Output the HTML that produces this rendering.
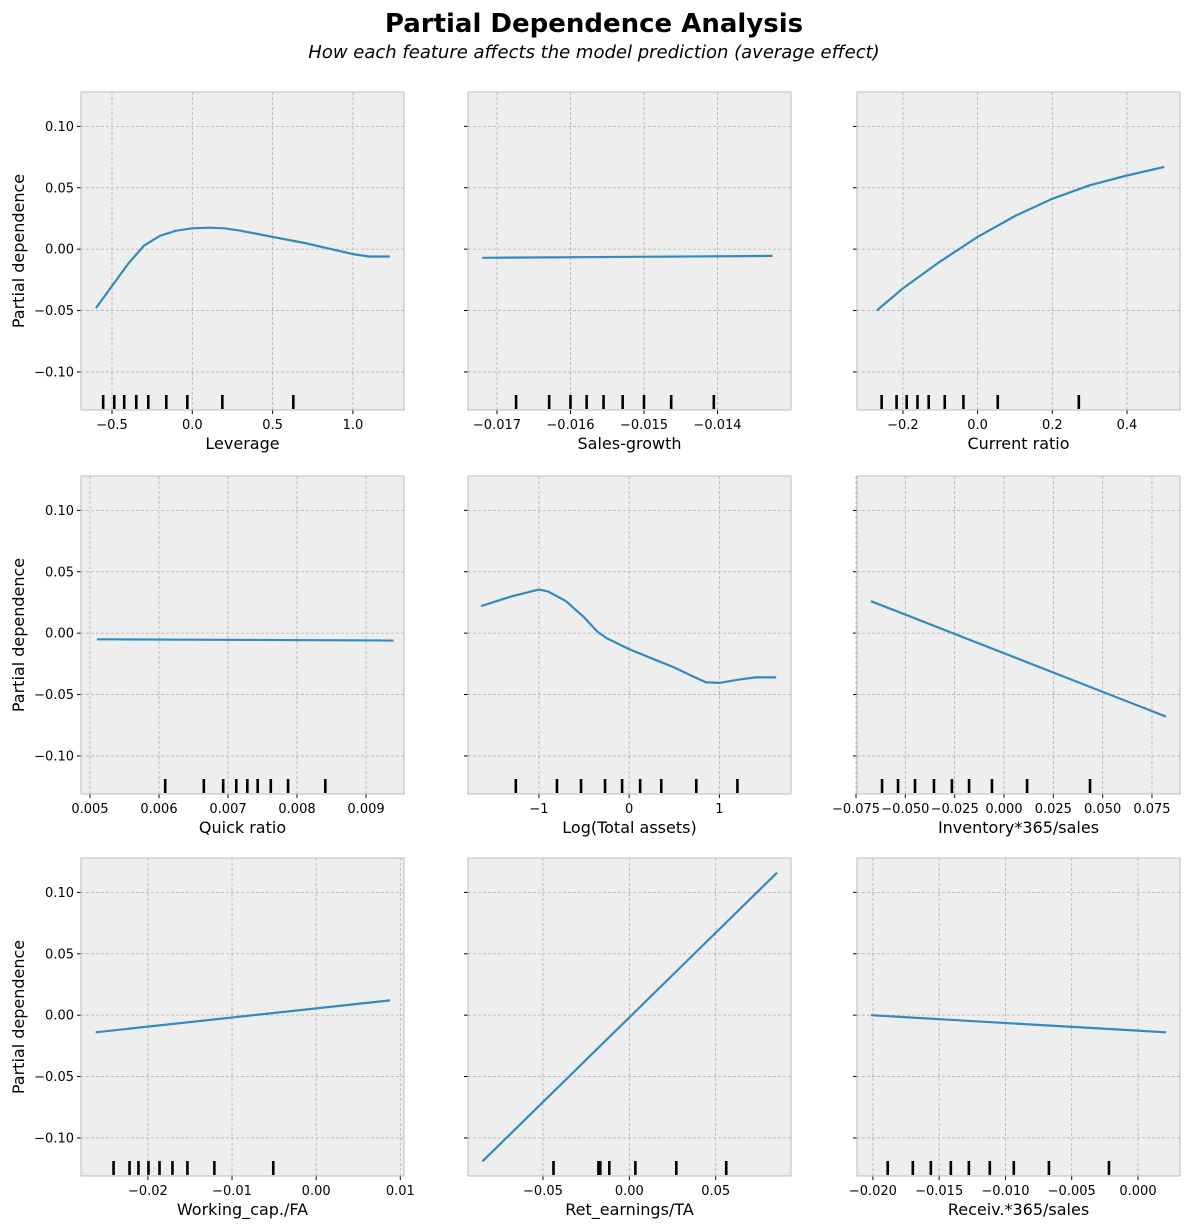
<!DOCTYPE html>
<html><head><meta charset="utf-8">
<style>
html,body{margin:0;padding:0;background:#fff;}
svg{display:block;font-family:"DejaVu Sans","Liberation Sans",sans-serif;}
</style></head>
<body>
<svg id="fig" width="1189" height="1229" viewBox="0 0 1189 1229">
<text x="594" y="32" text-anchor="middle" font-size="26" font-weight="bold">Partial Dependence Analysis</text>
<text x="594" y="58" text-anchor="middle" font-size="18" font-style="italic">How each feature affects the model prediction (average effect)</text>
</svg>
<script>
// ---- data ----
const yTicks = [-0.10, -0.05, 0.00, 0.05, 0.10];
const yTickLabels = ["\u22120.10", "\u22120.05", "0.00", "0.05", "0.10"];
const yLim = [-0.131, 0.128];

const leverageX = [-0.6,-0.5,-0.4,-0.3,-0.2,-0.1,0,0.1,0.2,0.3,0.5,0.7,0.9,1.0,1.1,1.23];
const leverageY = [-0.048,-0.03,-0.012,0.003,0.011,0.015,0.017,0.0175,0.017,0.015,0.010,0.005,-0.001,-0.004,-0.006,-0.006];
const leverageRug = [-0.555,-0.486,-0.424,-0.349,-0.274,-0.162,-0.031,0.187,0.629];
const leverageTicks = [-0.5,0,0.5,1.0];
const leverageTickLabels = ["\u22120.5","0.0","0.5","1.0"];

const salesX = [-0.0172,-0.01325];
const salesY = [-0.007,-0.0055];
const salesRug = [-0.01674,-0.01629,-0.0160,-0.01578,-0.01555,-0.01529,-0.0150,-0.01463,-0.01405];
const salesTicks = [-0.017,-0.016,-0.015,-0.014];
const salesTickLabels = ["\u22120.017","\u22120.016","\u22120.015","\u22120.014"];

const currentX = [-0.27,-0.2,-0.1,0,0.1,0.2,0.3,0.4,0.5];
const currentY = [-0.05,-0.032,-0.010,0.010,0.027,0.041,0.052,0.060,0.067];
const currentRug = [-0.257,-0.217,-0.190,-0.161,-0.131,-0.088,-0.038,0.054,0.271];
const currentTicks = [-0.2,0,0.2,0.4];
const currentTickLabels = ["\u22120.2","0.0","0.2","0.4"];

const quickX = [0.0051,0.0094];
const quickY = [-0.005,-0.006];
const quickRug = [0.00609,0.00665,0.00693,0.00712,0.00728,0.00743,0.00762,0.00787,0.00841];
const quickTicks = [0.005,0.006,0.007,0.008,0.009];
const quickTickLabels = ["0.005","0.006","0.007","0.008","0.009"];

const logtaX = [-1.64,-1.3,-1.0,-0.9,-0.7,-0.5,-0.35,-0.25,0,0.3,0.5,0.7,0.85,1.0,1.2,1.4,1.63];
const logtaY = [0.022,0.030,0.0355,0.034,0.026,0.013,0.001,-0.004,-0.013,-0.022,-0.028,-0.035,-0.040,-0.0405,-0.038,-0.036,-0.036];
const logtaRug = [-1.256,-0.8,-0.533,-0.267,-0.078,0.122,0.356,0.744,1.2];
const logtaTicks = [-1,0,1];
const logtaTickLabels = ["\u22121","0","1"];

const invX = [-0.0674,0.0821];
const invY = [0.026,-0.068];
const invRug = [-0.0618,-0.0537,-0.0451,-0.0355,-0.0264,-0.0177,-0.0061,0.0117,0.0436];
const invTicks = [-0.075,-0.05,-0.025,0,0.025,0.05,0.075];
const invTickLabels = ["\u22120.075","\u22120.050","\u22120.025","0.000","0.025","0.050","0.075"];

const wcX = [-0.0262,0.00878];
const wcY = [-0.014,0.012];
const wcRug = [-0.02408,-0.02218,-0.02112,-0.01993,-0.01862,-0.01708,-0.0153,-0.0121,-0.0051];
const wcTicks = [-0.02,-0.01,0,0.01];
const wcTickLabels = ["\u22120.02","\u22120.01","0.00","0.01"];

const reX = [-0.085,0.0855];
const reY = [-0.119,0.116];
const reRug = [-0.0439,-0.0179,-0.0168,-0.0116,0.0035,0.0272,0.0561];
const reTicks = [-0.05,0,0.05];
const reTickLabels = ["\u22120.05","0.00","0.05"];

const recX = [-0.02015,0.00211];
const recY = [0.0,-0.014];
const recRug = [-0.01888,-0.01699,-0.01563,-0.01412,-0.01276,-0.01118,-0.00937,-0.00672,-0.00219];
const recTicks = [-0.02,-0.015,-0.01,-0.005,0];
const recTickLabels = ["\u22120.020","\u22120.015","\u22120.010","\u22120.005","0.000"];

const featureNames = ["Leverage","Sales-growth","Current ratio","Quick ratio","Log(Total assets)","Inventory*365/sales","Working_cap./FA","Ret_earnings/TA","Receiv.*365/sales"];
const xLims = [[-0.693,1.318],[-0.017394,-0.013],[-0.323,0.542],[0.00487,0.00955],[-1.786,1.794],[-0.0745,0.0892],[-0.02795,0.01044],[-0.0934,0.0936],[-0.0212,0.00317]];

const panels = [
 {x:leverageX,y:leverageY,rug:leverageRug,t:leverageTicks,tl:leverageTickLabels},
 {x:salesX,y:salesY,rug:salesRug,t:salesTicks,tl:salesTickLabels},
 {x:currentX,y:currentY,rug:currentRug,t:currentTicks,tl:currentTickLabels},
 {x:quickX,y:quickY,rug:quickRug,t:quickTicks,tl:quickTickLabels},
 {x:logtaX,y:logtaY,rug:logtaRug,t:logtaTicks,tl:logtaTickLabels},
 {x:invX,y:invY,rug:invRug,t:invTicks,tl:invTickLabels},
 {x:wcX,y:wcY,rug:wcRug,t:wcTicks,tl:wcTickLabels},
 {x:reX,y:reY,rug:reRug,t:reTicks,tl:reTickLabels},
 {x:recX,y:recY,rug:recRug,t:recTicks,tl:recTickLabels}
];

// ---- drawing ----
const NS = "http://www.w3.org/2000/svg";
const svg = document.getElementById("fig");
const colL = [81,468,857], rowT = [92,476,858], W = 323, H = 318;
function mk(tag, attrs, parent){
  const e = document.createElementNS(NS, tag);
  for (const k in attrs) e.setAttribute(k, attrs[k]);
  parent.appendChild(e);
  return e;
}
panels.forEach((p, i) => {
  const c = i % 3, r = Math.floor(i / 3);
  const L = colL[c], T = rowT[r];
  const xl = xLims[i];
  const sx = v => L + (v - xl[0]) / (xl[1] - xl[0]) * W;
  const sy = v => T + H - (v - yLim[0]) / (yLim[1] - yLim[0]) * H;
  const slug = featureNames[i].toLowerCase().replace(/[^a-z0-9]+/g, '-').replace(/-$/,'');
  const g = mk("g", {}, svg);
  
  
  const bg = mk("rect", {x:L, y:T, width:W, height:H, fill:"#eeeeee"}, g);
  
  
  // grid
  yTicks.forEach((v, j) => {
    const y = sy(v);
    const gl = mk("line", {x1:L, x2:L+W, y1:y, y2:y, stroke:"#b2b2b2", "stroke-width":0.8, "stroke-dasharray":"3,2"}, g);
    
    
    const tk = mk("line", {x1:L-4, x2:L, y1:y, y2:y, stroke:"#000", "stroke-width":1}, g);
    
    
    if (c === 0) {
      const tx = mk("text", {x:L-7, y:y+4.5, "text-anchor":"end", "font-size":13}, g);
      tx.textContent = yTickLabels[j];
      
      
    }
  });
  p.t.forEach((v, j) => {
    const x = sx(v);
    const gl = mk("line", {x1:x, x2:x, y1:T, y2:T+H, stroke:"#b2b2b2", "stroke-width":0.8, "stroke-dasharray":"3,2"}, g);
    
    
    const tk = mk("line", {x1:x, x2:x, y1:T+H, y2:T+H+4, stroke:"#000", "stroke-width":1}, g);
    
    
    const tx = mk("text", {x:x, y:T+H+19, "text-anchor":"middle", "font-size":13}, g);
    tx.textContent = p.tl[j];
    
    
  });
  // rug
  p.rug.forEach(v => {
    const x = sx(v);
    const rl = mk("line", {x1:x, x2:x, y1:T+H-15, y2:T+H-1, stroke:"#000", "stroke-width":2.6}, g);
    
    
  });
  // curve
  const d = p.x.map((v, k) => (k ? "L" : "M") + sx(v).toFixed(1) + "," + sy(p.y[k]).toFixed(1)).join(" ");
  const path = mk("path", {d:d, fill:"none", stroke:"#348ABD", "stroke-width":2.2, "stroke-linejoin":"round", "stroke-linecap":"butt"}, g);
  
  
  // frame
  const fr = mk("rect", {x:L, y:T, width:W, height:H, fill:"none", stroke:"#bcbcbc", "stroke-width":1}, g);
  
  
  // x label
  const xlab = mk("text", {x:L+W/2, y:T+H+39, "text-anchor":"middle", "font-size":16}, g);
  xlab.textContent = featureNames[i];
  
  
  if (c === 0) {
    const yl = mk("text", {x:0, y:0, "text-anchor":"middle", "font-size":16, transform:"translate(24," + (T+H/2) + ") rotate(-90)"}, g);
    yl.textContent = "Partial dependence";
    
    
  }
});
</script>
</body></html>
